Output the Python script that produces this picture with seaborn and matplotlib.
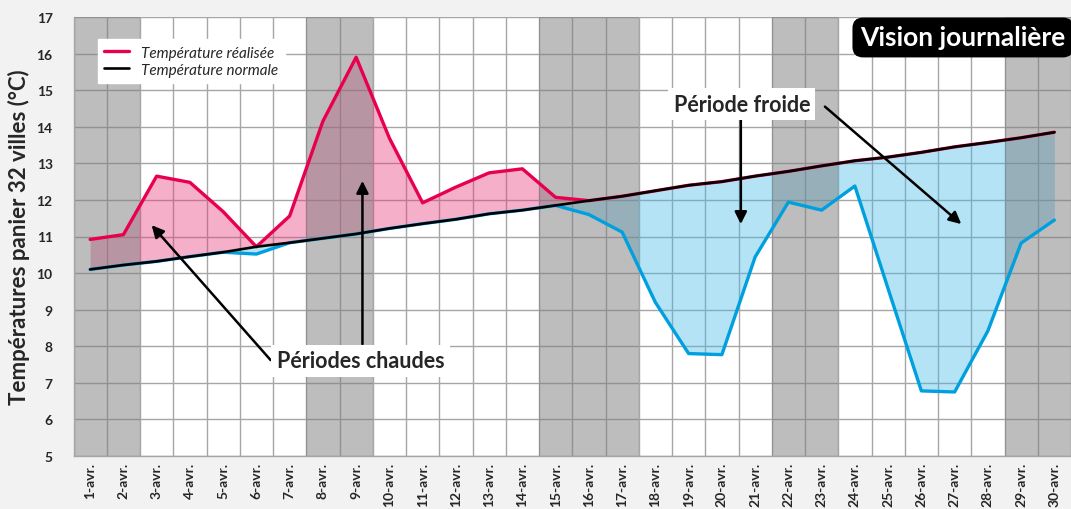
import numpy as np
import pandas as pd
import matplotlib.pyplot as plt
import seaborn as sns

days = list(range(1, 31))
day_labels = [f"{d}-avr." for d in days]
temp_realisee = [10.92, 11.05, 12.65, 12.48, 11.68, 10.52, 11.56, 14.15, 15.9, 13.69,
                 11.92, 12.35, 12.74, 12.85, 12.07, 11.6, 11.12, 9.2, 7.8, 7.77,
                 10.44, 11.94, 11.72, 12.38, 9.57, 6.78, 6.75, 8.42, 10.82, 11.45]
temp_normale = [10.1, 10.22, 10.32, 10.45, 10.57, 10.72, 10.83, 10.95, 11.07, 11.22,
                11.35, 11.47, 11.62, 11.72, 11.85, 11.98, 12.1, 12.25, 12.4, 12.5,
                12.65, 12.78, 12.93, 13.07, 13.17, 13.3, 13.45, 13.57, 13.7, 13.85]
# week-end / jours feriés (jours du mois)
bandes = [(1, 2), (8, 9), (15, 17), (22, 23), (29, 30)]

sns.set_theme(style="white")
plt.rcParams['font.family'] = ['Lato', 'DejaVu Sans']

df = pd.DataFrame({'jour': np.arange(len(days)),
                   'realisee': temp_realisee,
                   'normale': temp_normale})
df['haut'] = np.maximum(df['realisee'], df['normale'])
df['bas'] = np.minimum(df['realisee'], df['normale'])

fig = plt.figure(figsize=(10.71, 5.1), dpi=100, facecolor='#F2F2F2')
ax = fig.add_axes([73.5 / 1071, 53 / 510, 1 - 73.5 / 1071, 439 / 510])
ax.set_facecolor('white')

x = df['jour']
ax.fill_between(x, df['normale'], df['haut'], color='#E63776', alpha=0.4, lw=0, zorder=1)
ax.fill_between(x, df['bas'], df['normale'], color='#43B9E6', alpha=0.4, lw=0, zorder=1)

for a, b in bandes:
    ax.axvspan(a - 1.5, b - 0.5, color='#7D7D7D', alpha=0.5, lw=0, zorder=2)

sns.lineplot(data=df, x='jour', y='bas', color='#00A0DF', lw=2.4, ax=ax, zorder=3)
sns.lineplot(data=df, x='jour', y='haut', color='#E8004F', lw=2.4, ax=ax, zorder=4,
             label='Température réalisée')
sns.lineplot(data=df, x='jour', y='normale', color='black', lw=1.9, ax=ax, zorder=5,
             label='Température normale')

ax.set_xlim(-0.5, len(days) - 0.5)
ax.set_ylim(5, 17)
ax.set_yticks(range(5, 18))
ax.set_xticks(np.arange(len(days)))
ax.set_xticklabels(day_labels, rotation=90, fontsize=10, fontweight='bold')
ax.set_xticks(np.arange(-0.5, len(days)), minor=True)
ax.tick_params(axis='x', which='major', length=0, pad=4)
ax.tick_params(axis='x', which='minor', length=5, color='#A6A6A6', width=1)
ax.tick_params(axis='y', length=5, color='#A6A6A6', width=1, pad=10, labelsize=10)
for t in ax.get_yticklabels():
    t.set_fontweight('bold')

ax.set_axisbelow(True)
ax.grid(axis='y', which='major', color='#A6A6A6', lw=1)
ax.grid(axis='x', which='minor', color='#A6A6A6', lw=1)
ax.grid(axis='x', which='major', visible=False)
for s in ['top', 'right']:
    ax.spines[s].set_visible(False)
for s in ['left', 'bottom']:
    ax.spines[s].set_color('#A6A6A6')
    ax.spines[s].set_linewidth(1)

ax.set_xlabel('')
ax.set_ylabel('Températures panier 32 villes (°C)', fontsize=16, fontweight='bold', labelpad=5)

handles, labels = ax.get_legend_handles_labels()
leg = ax.legend(handles, labels, loc='upper left', bbox_to_anchor=(0.0165, 0.968),
                frameon=True, fancybox=False, framealpha=1, edgecolor='white',
                facecolor='white', borderpad=0.45, handlelength=1.6, handletextpad=0.8,
                labelspacing=0.2, prop={'style': 'italic', 'size': 11})
leg.set_zorder(10)

box = dict(boxstyle='square,pad=0.25', facecolor='white', edgecolor='none')
arrow = dict(arrowstyle='-|>', color='black', lw=1.8, mutation_scale=18, shrinkA=0, shrinkB=0)

ax.text(8.13, 7.6, 'Périodes chaudes', ha='center', va='center', fontsize=15.5,
        fontweight='bold', bbox=box, zorder=9)
ax.annotate('', xy=(1.85, 11.31), xytext=(5.43, 7.62), arrowprops=arrow, zorder=8)
ax.annotate('', xy=(8.19, 12.52), xytext=(8.19, 8.06), arrowprops=arrow, zorder=8)

ax.text(19.6, 14.62, 'Période froide', ha='center', va='center', fontsize=15.5,
        fontweight='bold', bbox=box, zorder=9)
ax.annotate('', xy=(19.57, 11.34), xytext=(19.57, 14.2), arrowprops=arrow, zorder=8)
ax.annotate('', xy=(26.2, 11.34), xytext=(22.1, 14.55), arrowprops=arrow, zorder=8)

fig.text(963 / 1071, 1 - 38.5 / 510, 'Vision journalière', ha='center', va='center',
         color='white', fontsize=19, fontweight='bold',
         bbox=dict(boxstyle='round,pad=0.3,rounding_size=0.4', facecolor='black',
                   edgecolor='none'), zorder=20)

fig.savefig('out.png', dpi=100, facecolor=fig.get_facecolor())
